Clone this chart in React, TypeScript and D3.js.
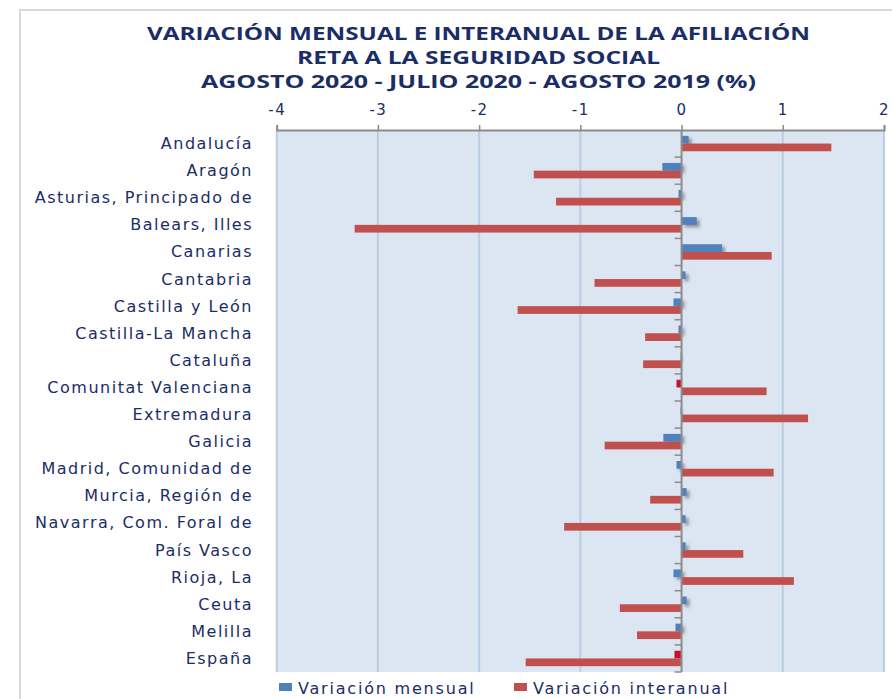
import { useEffect, useRef } from "react";
import * as d3 from "d3";

const categories = [
  "Andalucía",
  "Aragón",
  "Asturias, Principado de",
  "Balears, Illes",
  "Canarias",
  "Cantabria",
  "Castilla y León",
  "Castilla-La Mancha",
  "Cataluña",
  "Comunitat Valenciana",
  "Extremadura",
  "Galicia",
  "Madrid, Comunidad de ",
  "Murcia, Región de",
  "Navarra, Com. Foral de",
  "País Vasco",
  "Rioja, La",
  "Ceuta",
  "Melilla",
  "España",
];

// variación mensual (agosto 2020 / julio 2020)
const mensual = [
  0.07, -0.19, -0.03, 0.15, 0.4, 0.04, -0.08, -0.03, -0.01, -0.05,
  -0.01, -0.18, -0.05, 0.05, 0.04, 0.04, -0.08, 0.05, -0.06, -0.07,
];

// variación interanual (agosto 2020 / agosto 2019)
const interanual = [
  1.48, -1.46, -1.24, -3.23, 0.89, -0.86, -1.62, -0.36, -0.38, 0.84,
  1.25, -0.76, 0.91, -0.31, -1.16, 0.61, 1.11, -0.61, -0.44, -1.54,
];

// puntos de la serie mensual resaltados en rojo oscuro
const resaltados = ["Comunitat Valenciana", "España"];

const xTicks = [-4, -3, -2, -1, 0, 1, 2];

const titleLines = [
  "VARIACIÓN MENSUAL E INTERANUAL DE LA AFILIACIÓN",
  "RETA A LA SEGURIDAD SOCIAL",
  "AGOSTO 2020 - JULIO 2020 - AGOSTO 2019 (%)",
];

const legendItems = ["Variación mensual", "Variación interanual"];

const W = 892, H = 699;
const navy = "#1b2d66";
const blue = "#4f81bd";
const red = "#c0504d";
const crimson = "#cc0f2e";
const labelFont = "'DejaVu Sans', Verdana, sans-serif";

const App = () => {
  const ref = useRef(null);

  useEffect(() => {
    const svg = d3.select(ref.current);
    svg.selectAll("*").remove();

    const left = 276.7, right = 884, top = 130, bottom = 672;

    const x = d3.scaleLinear().domain([-4, 2]).range([left, right]);
    const y = d3.scaleBand().domain(categories).range([top, bottom]);
    const bh = y.bandwidth() * 0.285;

    const defs = svg.append("defs");
    const f = defs.append("filter").attr("id", "shadow")
      .attr("x", "-50%").attr("y", "-50%").attr("width", "300%").attr("height", "300%");
    f.append("feDropShadow").attr("dx", 3).attr("dy", 2.5)
      .attr("stdDeviation", 1.8).attr("flood-color", "#555").attr("flood-opacity", 0.55);

    // outer frame
    svg.append("rect").attr("x", 20).attr("y", 10)
      .attr("width", W).attr("height", H)
      .attr("fill", "#fff").attr("stroke", "#d9d9d9").attr("stroke-width", 2);

    // title (stretched like the original)
    const titleWidths = [663, 363, 555];
    svg.append("g").selectAll("text").data(titleLines).join("text")
      .attr("x", 478.5).attr("y", (d, i) => 40 + i * 24)
      .attr("text-anchor", "middle")
      .attr("font-family", "'Open Sans', sans-serif")
      .attr("font-weight", "bold").attr("font-size", 18.5)
      .attr("textLength", (d, i) => titleWidths[i])
      .attr("lengthAdjust", "spacingAndGlyphs")
      .attr("fill", navy)
      .text(d => d);

    // plot area
    svg.append("rect").attr("x", left).attr("y", top)
      .attr("width", right - left).attr("height", bottom - top)
      .attr("fill", "#dce6f2");

    svg.append("g").selectAll("line").data(xTicks.filter(d => d !== 0)).join("line")
      .attr("x1", d => x(d)).attr("x2", d => x(d))
      .attr("y1", top).attr("y2", bottom)
      .attr("stroke", "#b9cde5").attr("stroke-width", 2);

    // top axis
    const ax = svg.append("g").attr("transform", `translate(0,${top})`)
      .call(d3.axisTop(x).tickValues(xTicks).tickFormat(d => String(d))
        .tickSize(5).tickPadding(10).tickSizeOuter(5));
    ax.select(".domain").attr("stroke", "#8c8c8c").attr("stroke-width", 2);
    ax.selectAll(".tick line").attr("stroke", "#8c8c8c").attr("stroke-width", 1.5);
    ax.selectAll("text")
      .attr("font-family", labelFont).attr("font-size", 15)
      .attr("letter-spacing", 1.5).attr("fill", navy);

    // bars
    svg.append("g").selectAll("rect").data(categories).join("rect")
      .attr("x", (d, i) => x(Math.min(0, mensual[i])))
      .attr("y", d => y(d) + y.bandwidth() / 2 - bh)
      .attr("width", (d, i) => Math.abs(x(mensual[i]) - x(0)))
      .attr("height", bh)
      .attr("fill", d => resaltados.includes(d) ? crimson : blue)
      .attr("filter", d => resaltados.includes(d) ? null : "url(#shadow)");

    svg.append("g").selectAll("rect").data(categories).join("rect")
      .attr("x", (d, i) => x(Math.min(0, interanual[i])))
      .attr("y", d => y(d) + y.bandwidth() / 2)
      .attr("width", (d, i) => Math.abs(x(interanual[i]) - x(0)))
      .attr("height", bh)
      .attr("fill", red);

    // category axis at zero
    const x0 = x(0);
    svg.append("line").attr("x1", x0).attr("x2", x0).attr("y1", top).attr("y2", bottom)
      .attr("stroke", "#8c8c8c").attr("stroke-width", 2);
    const edges = categories.map(c => y(c)).slice(1).concat([bottom]);
    svg.append("g").selectAll("line").data(edges).join("line")
      .attr("x1", x0 - 7).attr("x2", x0).attr("y1", d => d).attr("y2", d => d)
      .attr("stroke", "#8c8c8c").attr("stroke-width", 1.5);

    // category labels
    svg.append("g").selectAll("text").data(categories).join("text")
      .attr("x", 253).attr("y", d => y(d) + y.bandwidth() / 2 + 5.5)
      .attr("text-anchor", "end")
      .attr("font-family", labelFont).attr("font-size", 16)
      .attr("letter-spacing", 1.5).attr("fill", navy)
      .text(d => d);

    // legend
    const lg = svg.append("g").attr("transform", "translate(279,683)");
    const lx = [0, 235];
    legendItems.forEach((t, i) => {
      lg.append("rect").attr("x", lx[i]).attr("y", 0).attr("width", 13).attr("height", 8)
        .attr("fill", i === 0 ? blue : red);
      lg.append("text").attr("x", lx[i] + 19).attr("y", 10.5)
        .attr("font-family", labelFont).attr("font-size", 16)
        .attr("letter-spacing", 1.8).attr("fill", navy)
        .text(t);
    });
  }, []);

  return (
    <svg ref={ref} width={W} height={H}
      style={{ position: "absolute", left: 0, top: 0, display: "block" }} />
  );
};

export default App;
